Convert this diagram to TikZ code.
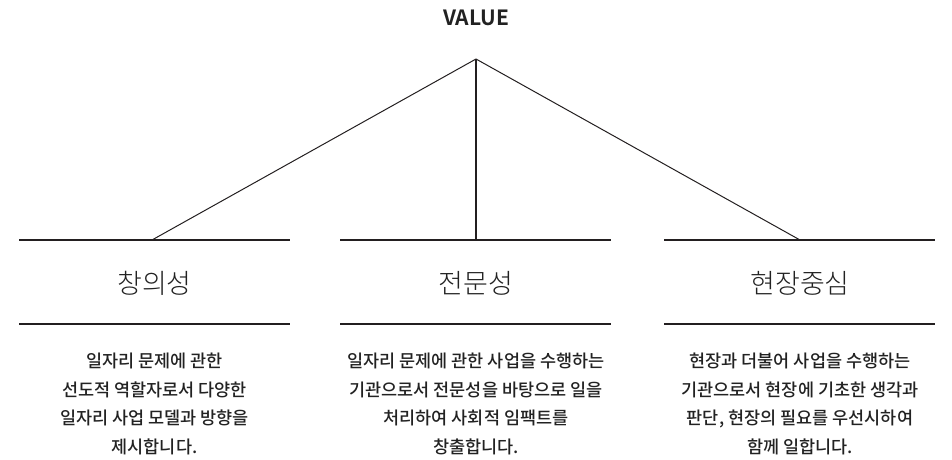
\documentclass[tikz,border=0pt]{standalone}
\usepackage{fontspec}
\usepackage{tikz}
\usetikzlibrary{positioning}
\IfFontExistsTF{Noto Sans CJK KR Bold}
  {\newfontfamily\latinbold{Noto Sans CJK KR Bold}}
  {\newfontfamily\latinbold{Noto Sans CJK KR}[FakeBold=3]}
\IfFontExistsTF{Noto Sans CJK KR Light}
  {\newfontfamily\krthin{Noto Sans CJK KR Light}}
  {\newfontfamily\krthin{Noto Sans CJK KR}}
\IfFontExistsTF{Noto Sans CJK KR Medium}
  {\newfontfamily\krbody{Noto Sans CJK KR Medium}}
  {\newfontfamily\krbody{Noto Sans CJK KR}[FakeBold=1.2]}
\definecolor{inkline}{HTML}{231F20}
\definecolor{inktext}{HTML}{222222}
\tikzset{
  barline/.style={line width=2pt, color=inkline},
  branch/.style={line width=1pt, color=inkline},
  headlabel/.style={font=\krthin\fontsize{27}{30}\selectfont, text=inktext, inner sep=0pt},
  bodytext/.style={font=\krbody\fontsize{17.5}{28.5}\selectfont, text=inktext, align=center, inner sep=0pt},
}
\begin{document}
\begin{tikzpicture}[x=1pt,y=1pt]
    \useasboundingbox (0,0) rectangle (952,459);
    %%Tiêu đề
    \node[font=\latinbold\fontsize{21}{24}\selectfont, text=inktext] (value) at (476,441) {VALUE};
    \coordinate (apex) at (476,400);
    %%Các thanh
    \coordinate (la) at (19,219);  \coordinate (lb) at (290,219);
    \coordinate (ma) at (340,219); \coordinate (mb) at (611,219);
    \coordinate (ra) at (664,219); \coordinate (rb) at (935,219);
    \draw[barline] (la) -- (lb);
    \draw[barline] (ma) -- (mb);
    \draw[barline] (ra) -- (rb);
    \draw[barline] (19,135) -- (290,135);
    \draw[barline] (340,135) -- (611,135);
    \draw[barline] (664,135) -- (935,135);
    %%Nhánh
    \coordinate (lfoot) at (152,219);
    \coordinate (mfoot) at (476,219);
    \coordinate (rfoot) at (800,219);
    \draw[branch] (apex) -- (lfoot);
    \draw[branch, line width=1.5pt] (apex) -- (mfoot);
    \draw[branch] (apex) -- (rfoot);
    %%Tên mục
    \node[headlabel] (creative) at (154.5,176) {창의성};
    \node[headlabel] (expert) at (476,176) {전문성};
    \node[headlabel] (field) at (800,176) {현장중심};
    %%Mô tả
    \node[bodytext] (creativetext) at (154.5,55) {일자리 문제에 관한\\선도적 역할자로서 다양한\\일자리 사업 모델과 방향을\\제시합니다.};
    \node[bodytext] (experttext) at (476,55) {일자리 문제에 관한 사업을 수행하는\\기관으로서 전문성을 바탕으로 일을\\처리하여 사회적 임팩트를\\창출합니다.};
    \node[bodytext] (fieldtext) at (800,55) {현장과 더불어 사업을 수행하는\\기관으로서 현장에 기초한 생각과\\판단, 현장의 필요를 우선시하여\\함께 일합니다.};
\end{tikzpicture}
\end{document}
